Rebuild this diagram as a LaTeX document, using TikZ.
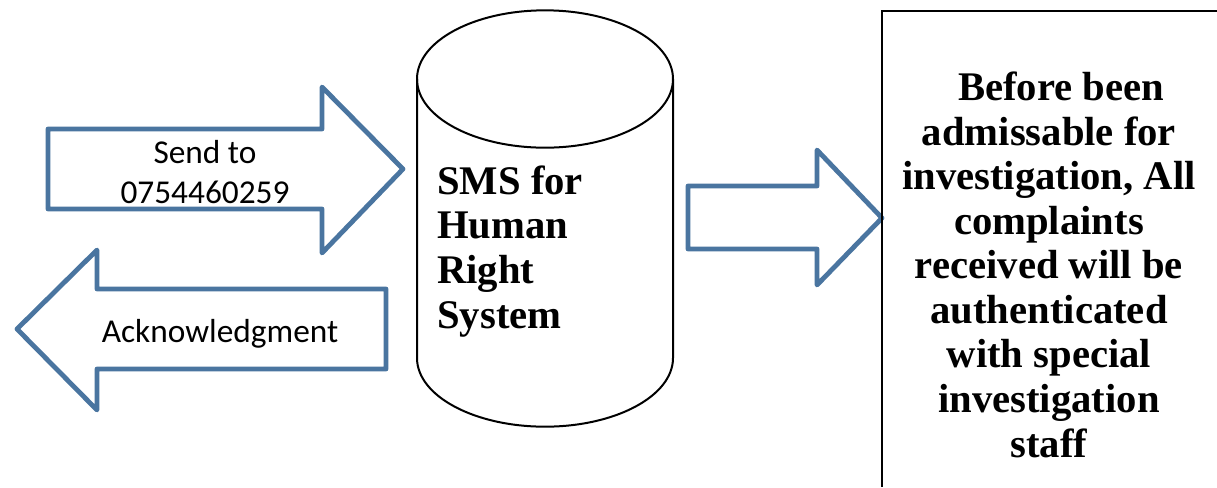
\documentclass[tikz,border=0pt]{standalone}
\usepackage{fontspec}
\setmainfont{Liberation Serif}
\newfontfamily\calibrifont{Carlito}
\definecolor{arrowblue}{RGB}{74,117,160}

\begin{document}
\begin{tikzpicture}[x=0.75pt,y=-0.75pt,
  blockarrow/.style={draw=arrowblue,line width=3.6pt,line join=round,fill=white},
  arrowtext/.style={font=\calibrifont\fontsize{25}{30}\selectfont,align=center,inner sep=0pt},
  boldtext/.style={font=\bfseries\fontsize{30.5}{33.4}\selectfont,inner sep=0pt}]
\useasboundingbox (0,0) rectangle (1217,487);
% block arrows
\draw[blockarrow] (48,129)--(322,129)--(322,87)--(403,169)--(322,253)--(322,209)--(48,209)--cycle;
\draw[blockarrow] (386,289)--(97,289)--(97,250)--(17,329)--(97,410)--(97,369)--(386,369)--cycle;
\draw[blockarrow] (688,186)--(817,186)--(817,150)--(882,218)--(817,285)--(817,249)--(688,249)--cycle;
% database cylinder
\draw[line width=1.5pt] (417,79)--(417,358) arc[start angle=180,end angle=360,x radius=96pt,y radius=51.5pt]--(673,79);
\draw[line width=1.5pt] (545,79) ellipse[x radius=96pt,y radius=51.5pt];
% note box (runs off the page)
\draw[line width=2.2pt] (882,487)--(882,11)--(1217,11);
% base anchor of a multi-line node = last line
\node[arrowtext,anchor=base] (sendtxt) at (205,203) {Send to\\0754460259};
\node[arrowtext,anchor=base] (acktxt) at (220,342) {Acknowledgment};
\node[boldtext,align=left,anchor=base west] (dbtxt) at (437,328) {SMS for\\Human\\Right\\System};
\node[boldtext,align=center,anchor=base] (notetxt) at (1049,457) {\hspace{0.6em}Before been\\admissable for\\investigation, All\\complaints\hspace{0.6em}\\received will be\\authenticated\\with special\\investigation\\staff};
\end{tikzpicture}
\end{document}
